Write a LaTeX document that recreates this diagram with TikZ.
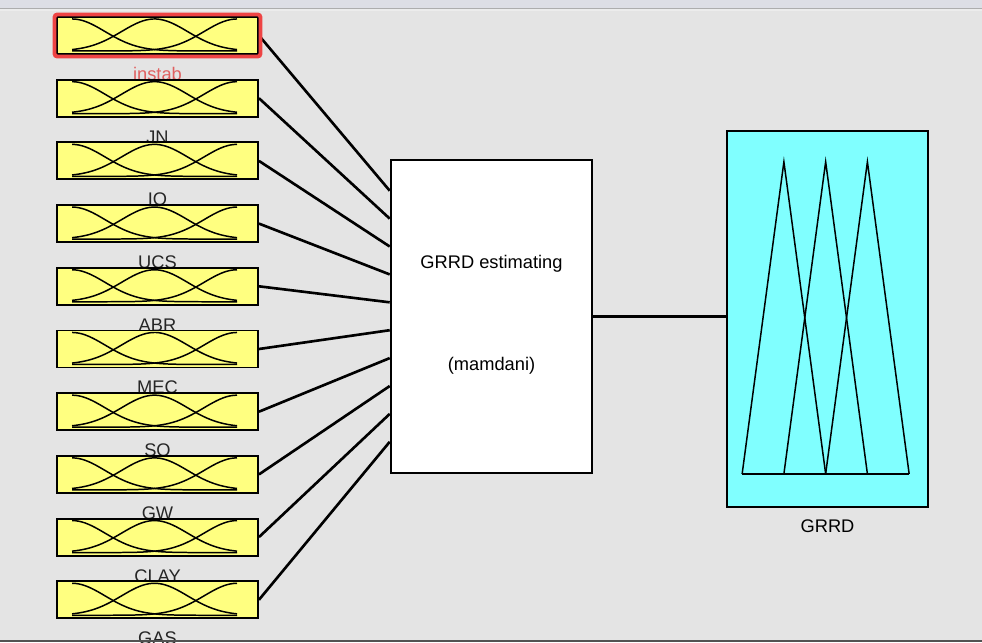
\documentclass[tikz,border=0pt]{standalone}
\usepackage{fontspec}
\setmainfont{Liberation Sans}
\usetikzlibrary{positioning, calc}
\definecolor{panelgray}{HTML}{E4E4E4}
\definecolor{stripgray}{HTML}{DDDEE5}
\definecolor{mfyellow}{HTML}{FFFF80}
\definecolor{outcyan}{HTML}{80FFFF}
\definecolor{selred}{HTML}{EE4444}
\definecolor{selname}{HTML}{E06060}

\begin{document}
\begin{tikzpicture}[
    x=0.02cm, y=-0.02cm,
    font=\fontsize{10.4}{12}\selectfont,
    inbox/.style={rectangle, draw, line width=1.1pt, fill=mfyellow, minimum width=4.02cm, minimum height=0.74cm, inner sep=0pt},
    rulebox/.style={rectangle, draw, line width=1.5pt, fill=white, minimum width=4.02cm, minimum height=6.26cm},
    outbox/.style={rectangle, draw, line width=1pt, fill=outcyan, minimum width=4.02cm, minimum height=7.52cm},
    mfline/.style={line width=0.85pt},
    wire/.style={line width=1.5pt},
    varname/.style={anchor=base, inner sep=0pt}
]
    % Panel
    \useasboundingbox (0,0) rectangle (982,642);
    \clip (0,0) rectangle (982,642);
    \fill[panelgray] (0,0) rectangle (982,642);
    \fill[stripgray] (0,0) rectangle (982,8);
    \fill[black!32] (0,8) rectangle (982,9.5);
    \fill[white!85!gray] (0,9.5) rectangle (982,11);

    % Rule block and output
    \node[rulebox] (rule) at (491.5,316.5) {};
    \node[varname] (ruletitle) at ($(rule.north)+(0,110)$) {GRRD estimating};
    \node[varname] (rulekind) at ($(rule.north)+(0,212)$) {(mamdani)};

    \node[outbox] (out) at (827.5,319) {};
    \node[varname] (outname) at ($(out.south)+(0,25)$) {GRRD};
    \begin{scope}[shift={(out.south west)}]
        \draw[mfline] (16,-34) -- (183,-34);
        \foreach \k in {0,1,2}
            \draw[mfline] ({16+41.75*\k},-34) -- ({57.75+41.75*\k},-346) -- ({99.5+41.75*\k},-34);
    \end{scope}
    \draw[wire] (rule.east) -- (rule.east -| out.west);

    % Input variables
    \foreach \vname/\vcol [count=\i from 0] in {instab/selname, JN/black!85, IO/black!85, UCS/black!85, ABR/black!85, MEC/black!85, SQ/black!85, GW/black!85, CLAY/black!85, GAS/black!85} {
        \node[inbox] (in\i) at (157.5,{35.5+62.7*\i}) {};
        \begin{scope}[shift={(in\i.south west)}]
            \draw[mfline] plot[domain=0:1, samples=50] ({16+165*\x}, {-4-32*exp(-(\x*\x)/0.08)});
            \draw[mfline] plot[domain=0:1, samples=50] ({16+165*\x}, {-4-32*exp(-((\x-0.5)*(\x-0.5))/0.08)});
            \draw[mfline] plot[domain=0:1, samples=50] ({16+165*\x}, {-4-32*exp(-((\x-1)*(\x-1))/0.08)});
        \end{scope}
        \node[varname, text=\vcol] (name\i) at ($(in\i.south)+(0,25.5)$) {\vname};
        \draw[wire] (in\i.east) -- ($(rule.north west)+(0,{32+27.9*\i})$);
    }

    % Selected input
    \draw[selred, line width=2.2pt, rounded corners=1.5pt] ($(in0.north west)+(-1.5,-1.5)$) rectangle ($(in0.south east)+(1.5,1.5)$);

    \fill[black!68] (0,640) rectangle (982,642);
\end{tikzpicture}
\end{document}
